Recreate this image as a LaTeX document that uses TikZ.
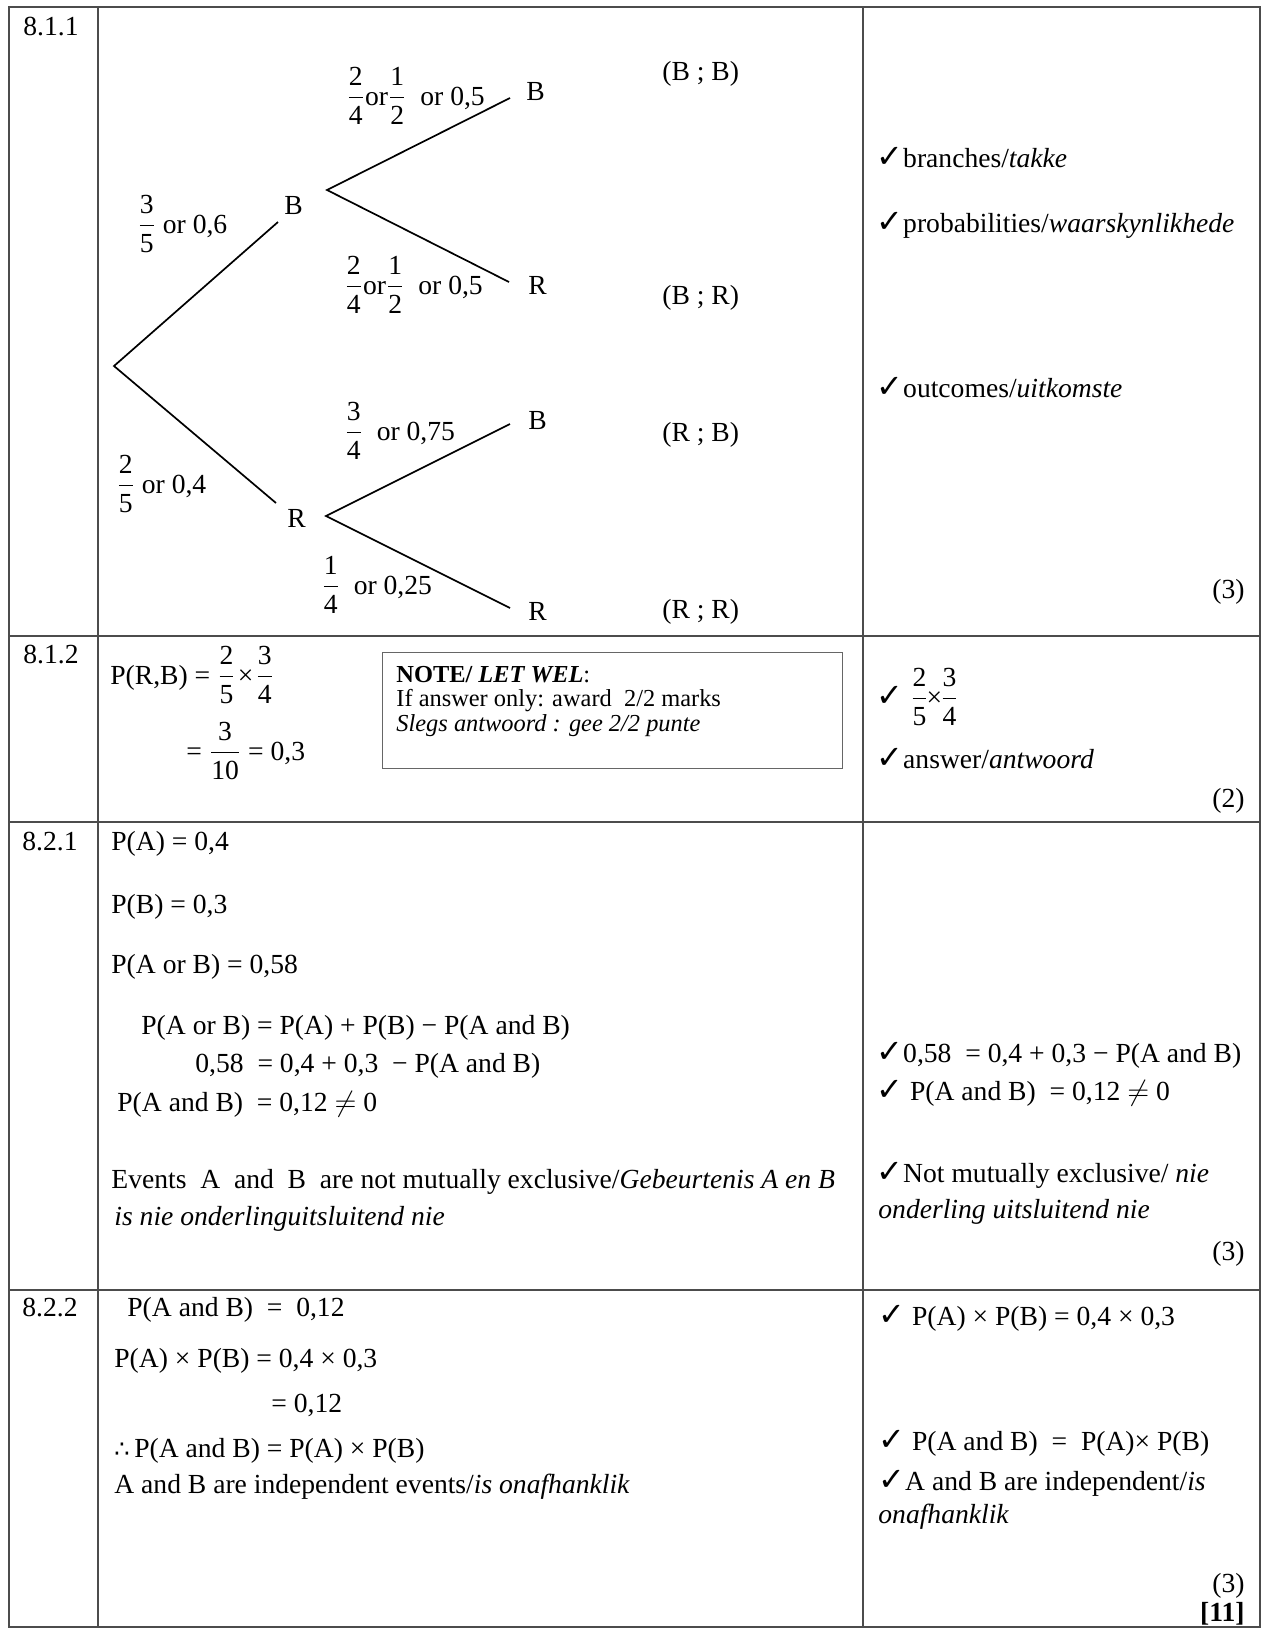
\documentclass[tikz,border=0pt]{standalone}
\usepackage{fontspec}
\setmainfont{Liberation Serif}
\newfontfamily\symf{DejaVu Sans}
\newcommand{\ck}{{\symf\bfseries\fontsize{16}{16}\selectfont ✓}}
\newcommand{\fr}[2]{$\displaystyle\frac{\mbox{#1}}{\mbox{#2}}$}
\newcommand{\tfore}{{\symf\fontsize{12}{12}\selectfont ∴}}
\newcommand{\mainsz}{\fontsize{13.8}{16}\selectfont}
\newcommand{\notesz}{\fontsize{12.2}{14}\selectfont}
\begin{document}
\begin{tikzpicture}[x=0.5pt,y=-0.5pt,
  every node/.style={inner sep=0pt, font=\mainsz},
  txt/.style={anchor=base west},
  rtxt/.style={anchor=base east},
  rule/.style={draw=black!70, line width=0.6pt},
  branch/.style={line width=0.85pt},
  notebox/.style={draw=black!60, line width=0.5pt}]
\useasboundingbox (0,0) rectangle (1263,1629);
\fill[white] (0,0) rectangle (1263,1629);
% table
\draw[rule] (9,7) rectangle (1260,1627);
\draw[rule] (98,7) -- (98,1627);
\draw[rule] (863,7) -- (863,1627);
\draw[rule] (9,636) -- (1260,636);
\draw[rule] (9,822) -- (1260,822);
\draw[rule] (9,1290) -- (1260,1290);
% ---------- row 8.1.1
\node[txt] (q811) at (23,35) {8.1.1};
\node[txt] (pB) at (137,233) {\fr{3}{5} or 0,6};
\node[txt] (pR) at (116,493) {\fr{2}{5} or 0,4};
\node[txt] (nB1) at (284,214) {B};
\node[txt] (nR1) at (287,527) {R};
\node[txt] (nBB) at (526,100) {B};
\node[txt] (nBR) at (528,294) {R};
\node[txt] (nRB) at (528,429) {B};
\node[txt] (nRR) at (528,620) {R};
\node[txt] (oBB) at (662,80) {(B ; B)};
\node[txt] (oBR) at (662,304) {(B ; R)};
\node[txt] (oRB) at (662,441) {(R ; B)};
\node[txt] (oRR) at (662,618) {(R ; R)};
\node[txt] (pBB) at (346,105) {\fr{2}{4}or\fr{1}{2}\ \ or 0,5};
\node[txt] (pBR) at (344,294) {\fr{2}{4}or\fr{1}{2}\ \ or 0,5};
\node[txt] (pRB) at (344,440) {\fr{3}{4}\ \ or 0,75};
\node[txt] (pRR) at (321,594) {\fr{1}{4}\ \ or 0,25};
\coordinate (root) at (114,366);
\coordinate (b1) at (278,222);
\coordinate (r1) at (276,503);
\coordinate (bj) at (327,190);
\coordinate (rj) at (326,516);
\coordinate (bbE) at (510,98);
\coordinate (brE) at (509,282);
\coordinate (rbE) at (510,424);
\coordinate (rrE) at (510,608);
\draw[branch] (b1) -- (root) -- (r1);
\draw[branch] (bbE) -- (bj) -- (brE);
\draw[branch] (rbE) -- (rj) -- (rrE);
\node[txt] (c1) at (876,167) {\ck branches/\textit{takke}};
\node[txt] (c2) at (876,232) {\ck probabilities/\textit{waarskynlikhede}};
\node[txt] (c3) at (876,397) {\ck outcomes/\textit{uitkomste}};
\node[rtxt] (m1) at (1245,598) {(3)};
% ---------- row 8.1.2
\node[txt] (q812) at (23,663) {8.1.2};
\node[txt] (e1) at (110,684) {P(R,B) = \fr{2}{5}\kern1pt×\kern1pt\fr{3}{4}};
\node[txt] (e2) at (186,760) {= \fr{3}{10} = 0,3};
\draw[notebox] (382,652) rectangle (842,768);
\node[txt, font=\notesz] (n1) at (396,682) {\textbf{NOTE/ \textit{LET WEL}}:};
\node[txt, font=\notesz] (n2) at (396,706) {If answer only: award\ \ 2/2 marks};
\node[txt, font=\notesz] (n3) at (396,731) {\textit{Slegs antwoord : gee 2/2 punte}};
\node[txt] (c4) at (876,706) {\ck\ \fr{2}{5}\kern-1pt×\kern-1pt\fr{3}{4}};
\node[txt] (c5) at (876,768) {\ck answer/\textit{antwoord}};
\node[rtxt] (m2) at (1245,807) {(2)};
% ---------- row 8.2.1
\node[txt] (q821) at (22,850) {8.2.1};
\node[txt] (a1) at (111,850) {P(A) = 0,4};
\node[txt] (a2) at (111,913) {P(B) = 0,3};
\node[txt] (a3) at (111,973) {P(A or B) = 0,58};
\node[txt] (a4) at (141,1034) {P(A or B) = P(A) + P(B) − P(A and B)};
\node[txt] (a5) at (195,1072) {0,58\ \ = 0,4 + 0,3\ \ − P(A and B)};
\node[txt] (a6) at (117,1111) {P(A and B)\ \ = 0,12 $\neq$ 0};
\node[txt] (a7) at (111,1188) {Events\ \ A\ \ and\ \ B\ \ are not mutually exclusive/\textit{Gebeurtenis A en B}};
\node[txt] (a8) at (114,1225) {\textit{is nie onderlinguitsluitend nie}};
\node[txt] (c6) at (876,1062) {\ck 0,58\ \ = 0,4 + 0,3 − P(A and B)};
\node[txt] (c7) at (876,1100) {\ck\ P(A and B)\ \ = 0,12 $\neq$ 0};
\node[txt] (c8) at (876,1182) {\ck Not mutually exclusive/ \textit{nie}};
\node[txt] (c9) at (878,1218) {\textit{onderling uitsluitend nie}};
\node[rtxt] (m3) at (1245,1260) {(3)};
% ---------- row 8.2.2
\node[txt] (q822) at (22,1316) {8.2.2};
\node[txt] (b1t) at (127,1316) {P(A and B)\ \ =\ \ 0,12};
\node[txt] (b2t) at (114,1367) {P(A) × P(B) = 0,4 × 0,3};
\node[txt] (b3t) at (271,1412) {= 0,12};
\node[txt] (b4t) at (114,1457) {\tfore\,P(A and B) = P(A) × P(B)};
\node[txt] (b5t) at (114,1493) {A and B are independent events/\textit{is onafhanklik}};
\node[txt] (c10) at (878,1325) {\ck\ P(A) × P(B) = 0,4 × 0,3};
\node[txt] (c11) at (878,1450) {\ck\ P(A and B)\ \ =\ \ P(A)× P(B)};
\node[txt] (c12) at (878,1490) {\ck A and B are independent/\textit{is}};
\node[txt] (c13) at (878,1523) {\textit{onafhanklik}};
\node[rtxt] (m4) at (1245,1592) {(3)};
\node[rtxt] (m5) at (1245,1621) {\textbf{[11]}};
\end{tikzpicture}
\end{document}
